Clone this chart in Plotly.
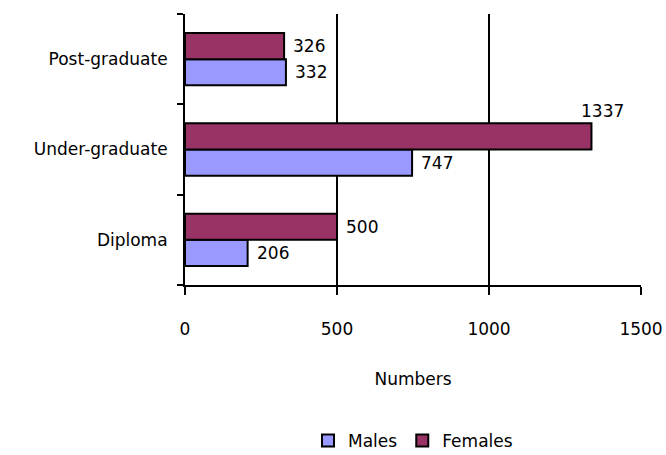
import plotly.graph_objects as go

# Enrolment counts by level of study
categories = ["Diploma", "Under-graduate", "Post-graduate"]
males = [206, 747, 332]
females = [500, 1337, 326]
x_ticks = [0, 500, 1000, 1500]

FONT = "DejaVu Sans"
FSIZE = 17
MALE_COLOR = "#9999FF"
FEMALE_COLOR = "#993366"

fig = go.Figure()
fig.add_trace(go.Bar(
    y=categories, x=males, name="Males", orientation="h",
    marker=dict(color=MALE_COLOR, line=dict(color="black", width=2)),
))
fig.add_trace(go.Bar(
    y=categories, x=females, name="Females", orientation="h",
    marker=dict(color=FEMALE_COLOR, line=dict(color="black", width=2)),
))

# value labels beside each bar end; the longest one sits above its bar
half = 0.145
for i, cat in enumerate(categories):
    for val, off in ((males[i], -half), (females[i], half)):
        tall = val > 1200
        fig.add_annotation(
            x=val, y=i + off, xref="x", yref="y", text=str(val),
            showarrow=False, xanchor="left", yanchor="middle",
            xshift=-12 if tall else 7, yshift=25 if tall else 0,
            font=dict(family=FONT, size=FSIZE, color="black"),
        )

fig.update_layout(
    width=666, height=455,
    margin=dict(l=185, r=25, t=14, b=170, autoexpand=False),
    paper_bgcolor="white", plot_bgcolor="white",
    barmode="group", bargap=0.42, bargroupgap=0,
    font=dict(family=FONT, size=FSIZE, color="black"),
    showlegend=True,
    legend=dict(orientation="h", x=0.5, xanchor="center", y=-0.575, yanchor="middle",
                font=dict(family=FONT, size=FSIZE), traceorder="normal", itemwidth=30),
    xaxis=dict(
        range=[0, 1500], tickvals=x_ticks, ticktext=[str(v) for v in x_ticks],
        showgrid=True, gridcolor="black", gridwidth=2, zeroline=False,
        showline=True, linecolor="black", linewidth=2,
        ticks="outside", ticklen=8, tickwidth=2, tickcolor="black",
        ticklabelstandoff=20, automargin=False,
        title=dict(text="Numbers", standoff=35, font=dict(family=FONT, size=FSIZE)),
    ),
    yaxis=dict(
        type="category", categoryorder="array", categoryarray=categories,
        showgrid=False, zeroline=False,
        showline=True, linecolor="black", linewidth=2,
        ticks="outside", tickson="boundaries", ticklen=6, tickwidth=2, tickcolor="black",
        ticklabelstandoff=12, automargin=False,
    ),
)

fig.write_html("out.html")
